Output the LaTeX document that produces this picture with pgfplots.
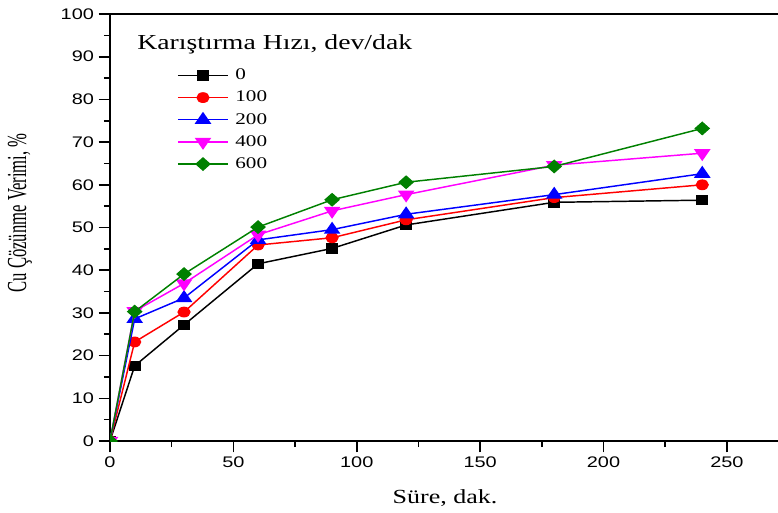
\documentclass[border=0pt]{standalone}
\usepackage{fontspec}
\setmainfont{Liberation Serif}
\newfontfamily\arial{Liberation Sans}
\usepackage{pgfplots}
\pgfplotsset{compat=1.18}
\definecolor{ogreen}{RGB}{0,128,0}
\definecolor{omag}{RGB}{255,0,255}
\newcommand{\sx}[1]{\scalebox{1.3}[1]{#1}}
\begin{document}
\begin{tikzpicture}
\begin{axis}[
  name=ax,
  at={(82.5pt,53.25pt)}, anchor=south west,
  scale only axis, width=501pt, height=320.25pt,
  xmin=0, xmax=270.7, ymin=0, ymax=100,
  axis x line*=bottom, axis y line*=left,
  axis line style={line width=1.4pt},
  xtick={0,50,...,250}, ytick={0,10,...,100},
  minor x tick num=1, minor y tick num=1,
  tick align=outside, major tick length=8.5pt, minor tick length=4.5pt,
  tick style={line width=1.2pt, black},
  /pgf/number format/assume math mode=true,
  ticklabel style={font=\arial\fontsize{11.5}{12}\selectfont},
  xticklabel={\sx{\pgfmathprintnumber{\tick}}},
  yticklabel={\sx{\pgfmathprintnumber{\tick}}},
  every axis x label/.style={at={(axis description cs:0.5015,-0.1335)}, anchor=center, font=\fontsize{15}{16}\selectfont},
  every axis y label/.style={at={(axis description cs:-0.1347,0.534)}, anchor=center, rotate=90, font=\fontsize{12.5}{13}\selectfont},
  xlabel={\sx{Süre, dak.}},
  ylabel={\scalebox{1}[1.65]{Cu Çözünme Verimi, \%}},
  clip marker paths=true,
  every axis plot/.append style={line width=1.1pt},
  legend image code/.code={\draw[line width=1.1pt, mark repeat=2,mark phase=2] plot coordinates {(0pt,0pt) (18.75pt,0pt) (37.5pt,0pt)};},
  legend cell align=left,
  legend style={at={(axis cs:27.15,87.8)}, anchor=north west, draw=none, fill=none, inner sep=0pt,
    font=\fontsize{12.2}{13}\selectfont, row sep=3pt,
    /tikz/every odd column/.style={column sep=3pt}},
]
\addplot[black, mark=square*, mark size=3.4pt, mark options={xscale=1.2, solid}] coordinates {
(0,0) (10,17.6) (30,27.2) (60,41.5) (90,45.1) (120,50.6) (180,55.9) (240,56.4)};
\addlegendentry{\sx{0}}
\addplot[red, mark=*, mark size=3.5pt, mark options={xscale=1.25, solid}] coordinates {
(0,0) (10,23.2) (30,30.2) (60,45.9) (90,47.6) (120,51.8) (180,57.0) (240,60.0)};
\addlegendentry{\sx{100}}
\addplot[blue, mark=triangle*, mark size=5pt, mark options={xscale=1.2, solid}] coordinates {
(0,0) (10,28.6) (30,33.5) (60,47.1) (90,49.5) (120,53.1) (180,57.7) (240,62.6)};
\addlegendentry{\sx{200}}
\addplot[omag, mark=triangle*, mark size=5pt, mark options={xscale=1.2, rotate=180, solid}] coordinates {
(0,0) (10,30.4) (30,36.9) (60,48.3) (90,53.9) (120,57.7) (180,64.6) (240,67.4)};
\addlegendentry{\sx{400}}
\addplot[ogreen, mark=diamond*, mark size=4.5pt, mark options={xscale=1.5, solid}] coordinates {
(0,0) (10,30.3) (30,39.1) (60,50.1) (90,56.5) (120,60.6) (180,64.3) (240,73.2)};
\addlegendentry{\sx{600}}
\node[anchor=west, inner sep=0pt, font=\fontsize{16}{18}\selectfont] at (axis cs:10.94,92.97) {\sx{Karıştırma Hızı, dev/dak}};
\end{axis}
\draw[line width=1.4pt] (ax.north west) -- (ax.north east);
\pgfresetboundingbox
\useasboundingbox (0,0) rectangle (583.5pt,384pt);
\end{tikzpicture}
\end{document}
